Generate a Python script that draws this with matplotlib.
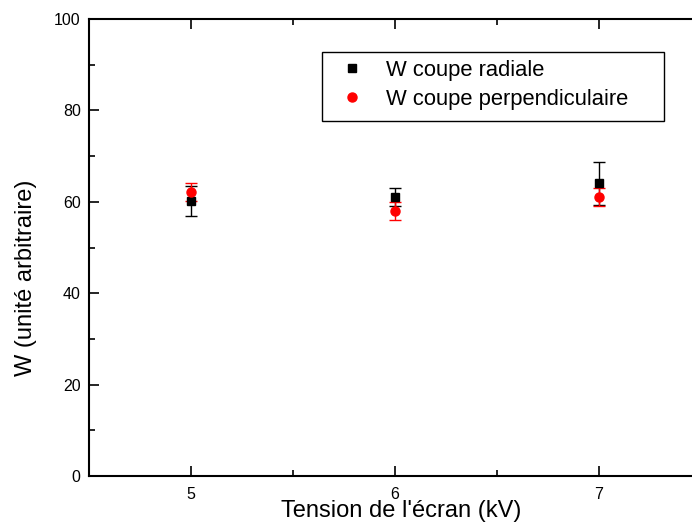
import matplotlib.pyplot as plt
from matplotlib.lines import Line2D
from matplotlib.patches import Rectangle
from matplotlib.ticker import MultipleLocator

plt.rcParams['font.family'] = ['Liberation Sans', 'DejaVu Sans']

tension = [5, 6, 7]
w_radiale = [60.2, 61.1, 64.1]
err_radiale = [3.2, 2.0, 4.7]
w_perp = [62.1, 58.0, 61.1]
err_perp = [2.0, 2.0, 2.0]

W, H = 692, 526
fig = plt.figure(figsize=(W / 100, H / 100), dpi=100)
ax = fig.add_axes([89 / W, 50 / H, 612 / W, 457 / H])

ax.errorbar(tension, w_radiale, yerr=err_radiale, fmt='s', color='black',
            ecolor='black', elinewidth=1, capsize=4, capthick=1, markersize=6)
ax.errorbar(tension, w_perp, yerr=err_perp, fmt='o', color='red',
            ecolor='red', elinewidth=1, capsize=4, capthick=1, markersize=6.5)

ax.set_xlim(4.5, 7.5)
ax.set_ylim(0, 100)
ax.xaxis.set_major_locator(MultipleLocator(1))
ax.xaxis.set_minor_locator(MultipleLocator(0.5))
ax.yaxis.set_major_locator(MultipleLocator(20))
ax.yaxis.set_minor_locator(MultipleLocator(10))
ax.tick_params(which='both', direction='in', top=True, right=False,
               labelsize=11.5, width=1.2)
ax.tick_params(which='major', length=7, pad=6)
ax.tick_params(axis='x', which='major', pad=8)
ax.tick_params(which='minor', length=4)
for s in ax.spines.values():
    s.set_linewidth(1.5)

ax.set_xlabel("Tension de l'écran (kV)", fontsize=17)
ax.xaxis.set_label_coords((401 - 89) / 612, (476 - 500) / 457)
ax.set_ylabel('W (unité arbitraire)', fontsize=17)
ax.yaxis.set_label_coords((37 - 89) / 612, (476 - 278) / 457)

# legend: Origin style box, wider on the right
fig.add_artist(Rectangle((322 / W, 1 - 121 / H), 342 / W, 69 / H,
                         transform=fig.transFigure, fill=False,
                         edgecolor='black', lw=1, zorder=5))
handles = [
    Line2D([], [], ls='none', marker='s', color='black', markersize=6),
    Line2D([], [], ls='none', marker='o', color='red', markersize=6.5),
]
labels = ['W coupe radiale', 'W coupe perpendiculaire']
ax.legend(handles, labels, loc='upper left',
          bbox_to_anchor=(339 / W, 1 - 60 / H),
          bbox_transform=fig.transFigure, fontsize=15.8, frameon=False,
          handlelength=1.2, handletextpad=0.95, borderpad=0,
          labelspacing=0.35, borderaxespad=0)

fig.savefig('out.png', dpi=100)
